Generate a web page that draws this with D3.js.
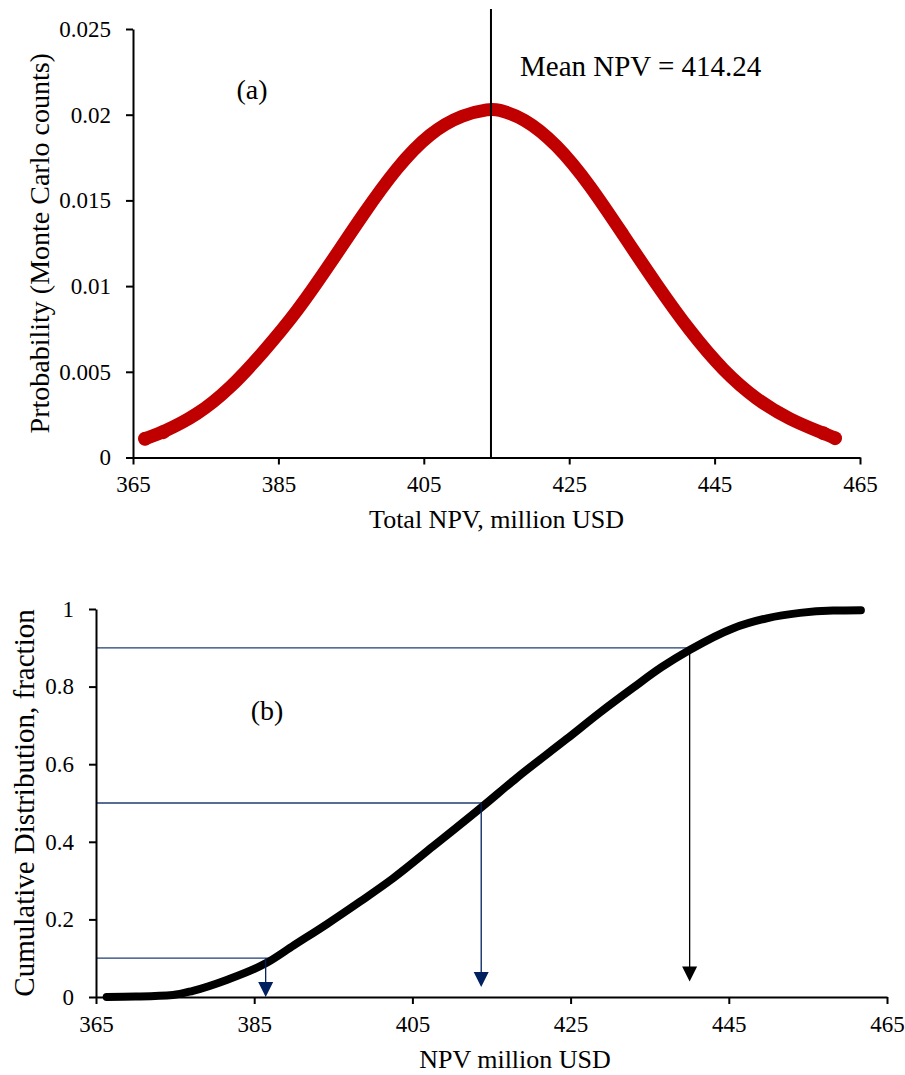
<!DOCTYPE html>
<html>
<head>
<meta charset="utf-8">
<script src="https://cdn.jsdelivr.net/npm/d3@7/dist/d3.min.js"></script>
<style>
  html, body { margin: 0; padding: 0; background: #fff; }
  svg { display: block; font-family: "Liberation Serif", "Times New Roman", serif; }
</style>
</head>
<body>
<svg id="chart" width="905" height="1075"></svg>
<script>
// ---- Panel (a): probability density of total NPV (million USD) ----
const pdfNpv  = [366.65, 369.17, 373.76, 378.34, 382.92, 387.52, 392.10, 396.68, 401.27, 405.85,
                 410.43, 414.10, 415.03, 418.69, 423.28, 427.86, 432.44, 437.03, 441.62, 446.20,
                 450.79, 455.37, 459.95, 461.56];
const pdfProb = [0.00109, 0.00148, 0.00245, 0.00401, 0.00614, 0.00847, 0.01129, 0.01421, 0.01693, 0.01897,
                 0.02004, 0.02033, 0.02033, 0.01985, 0.01830, 0.01590, 0.01298, 0.01007, 0.00735, 0.00505,
                 0.00336, 0.00220, 0.00142, 0.00113];
const meanNpv = 414.24;

// ---- Panel (b): cumulative distribution of NPV ----
const cdfNpv  = [366.35, 370.0, 374.73, 377.26, 381.52, 386.58, 390.0, 394.2, 398.4, 402.5,
                 407.6, 413.8, 418.2, 424.5, 428.7, 432.9, 436.5, 440.1, 445.5, 449.8,
                 454.0, 458.2, 461.7];
const cdfFrac = [0.000, 0.001, 0.005, 0.016, 0.044, 0.088, 0.133, 0.188, 0.246, 0.305,
                 0.388, 0.490, 0.565, 0.665, 0.733, 0.797, 0.850, 0.895, 0.950, 0.976,
                 0.990, 0.996, 0.997];

// P10 / P50 / P90 read-offs
const quantileP     = [0.1, 0.5, 0.9];
const quantileNpv   = [386.45, 413.7, 440.05];
const quantileHEnd  = [387.7, 413.9, 440.5];   // where the horizontal guide stops
const quantileTip   = [0.000, 0.026, 0.040];   // arrow tip level on the fraction axis
const quantileColor = ["#002060", "#002060", "#000000"];

// axis tick labels
const xTicks  = [365, 385, 405, 425, 445, 465];
const yTicksA = [0, 0.005, 0.01, 0.015, 0.02, 0.025];
const yTicksB = [0, 0.2, 0.4, 0.6, 0.8, 1];

const svg = d3.select("#chart");
const navy = "#1f3c73";

function styleAxis(g) {
  g.select(".domain").attr("stroke", "#000").attr("stroke-width", 2);
  g.selectAll(".tick line").attr("stroke", "#000").attr("stroke-width", 2);
  g.selectAll(".tick text").attr("fill", "#000").style("font-size", "23px")
    .style("font-family", '"Liberation Serif", "Times New Roman", serif');
}

// ================= Panel (a) =================
const xA = d3.scaleLinear().domain([365, 465]).range([133, 860]);
const yA = d3.scaleLinear().domain([0, 0.025]).range([457.5, 29]);

const gA = svg.append("g");

gA.append("g").attr("transform", `translate(0,${yA(0)})`)
  .call(d3.axisBottom(xA).tickValues(xTicks).tickSize(7).tickSizeOuter(0).tickPadding(11).tickFormat(d3.format("d")))
  .call(styleAxis);

gA.append("g").attr("transform", `translate(${xA(365)},0)`)
  .call(d3.axisLeft(yA).tickValues(yTicksA).tickSize(7).tickSizeOuter(0).tickPadding(15).tickFormat(d => String(d)))
  .call(styleAxis);

const pdfPts = pdfNpv.map((v, i) => [v, pdfProb[i]]);
const lineA = d3.line().x(d => xA(d[0])).y(d => yA(d[1])).curve(d3.curveBasis);

gA.append("path").datum(pdfPts)
  .attr("d", lineA)
  .attr("fill", "none")
  .attr("stroke", "#c00000")
  .attr("stroke-width", 13)
  .attr("stroke-linecap", "round")
  .attr("stroke-linejoin", "round");

// marker dots at the sparse tail ends
gA.selectAll("circle.end").data([pdfPts[0], pdfPts[1], pdfPts[pdfPts.length - 2], pdfPts[pdfPts.length - 1]])
  .join("circle").attr("class", "end")
  .attr("cx", d => xA(d[0])).attr("cy", d => yA(d[1])).attr("r", 7)
  .attr("fill", "#c00000");

// mean line
gA.append("line")
  .attr("x1", xA(meanNpv)).attr("x2", xA(meanNpv))
  .attr("y1", 9).attr("y2", yA(0))
  .attr("stroke", "#000").attr("stroke-width", 2);

gA.append("text").attr("x", 520).attr("y", 76)
  .style("font-size", "29px").text(`Mean NPV = ${meanNpv}`);

gA.append("text").attr("x", 252).attr("y", 99).attr("text-anchor", "middle")
  .style("font-size", "28px").text("(a)");

gA.append("text").attr("x", (xA.range()[0] + xA.range()[1]) / 2).attr("y", 528)
  .attr("text-anchor", "middle").style("font-size", "26px").text("Total NPV, million USD");

gA.append("text")
  .attr("transform", `translate(49,${(yA.range()[0] + yA.range()[1]) / 2}) rotate(-90)`)
  .attr("text-anchor", "middle").style("font-size", "28px")
  .text("Prtobability (Monte Carlo counts)");

// ================= Panel (b) =================
const xB = d3.scaleLinear().domain([365, 465]).range([96, 887]);
const yB = d3.scaleLinear().domain([0, 1]).range([997, 609]);

const gB = svg.append("g");

// quantile guides
quantileP.forEach((p, i) => {
  gB.append("line")
    .attr("x1", xB(365)).attr("x2", xB(quantileHEnd[i]))
    .attr("y1", yB(p)).attr("y2", yB(p))
    .attr("stroke", navy).attr("stroke-width", 1.3);
});

const lineB = d3.line().x(d => xB(d[0])).y(d => yB(d[1])).curve(d3.curveMonotoneX);
const cdfPts = cdfNpv.map((v, i) => [v, cdfFrac[i]]);
gB.append("path").datum(cdfPts)
  .attr("d", lineB)
  .attr("fill", "none")
  .attr("stroke", "#000")
  .attr("stroke-width", 8)
  .attr("stroke-linecap", "round")
  .attr("stroke-linejoin", "round");

// vertical arrows down to the NPV axis
quantileP.forEach((p, i) => {
  const x = xB(quantileNpv[i]);
  const tip = yB(quantileTip[i]);
  const head = 15, half = 7.5;
  gB.append("line")
    .attr("x1", x).attr("x2", x)
    .attr("y1", yB(p)).attr("y2", tip - head + 1)
    .attr("stroke", quantileColor[i]).attr("stroke-width", 1.3);
  gB.append("path")
    .attr("d", `M${x - half},${tip - head}L${x + half},${tip - head}L${x},${tip}Z`)
    .attr("fill", quantileColor[i]);
});

gB.append("g").attr("transform", `translate(0,${yB(0)})`)
  .call(d3.axisBottom(xB).tickValues(xTicks).tickSize(7).tickSizeOuter(0).tickPadding(12).tickFormat(d3.format("d")))
  .call(styleAxis);

gB.append("g").attr("transform", `translate(${xB(365)},0)`)
  .call(d3.axisLeft(yB).tickValues(yTicksB).tickSize(7).tickSizeOuter(0).tickPadding(15).tickFormat(d => String(d)))
  .call(styleAxis);

gB.append("text").attr("x", 267).attr("y", 720).attr("text-anchor", "middle")
  .style("font-size", "28px").text("(b)");

gB.append("text").attr("x", 515).attr("y", 1068)
  .attr("text-anchor", "middle").style("font-size", "26px").text("NPV million USD");

gB.append("text")
  .attr("transform", `translate(34,${(yB.range()[0] + yB.range()[1]) / 2}) rotate(-90)`)
  .attr("text-anchor", "middle").style("font-size", "29px")
  .text("Cumulative Distribution, fraction");
</script>
</body>
</html>
